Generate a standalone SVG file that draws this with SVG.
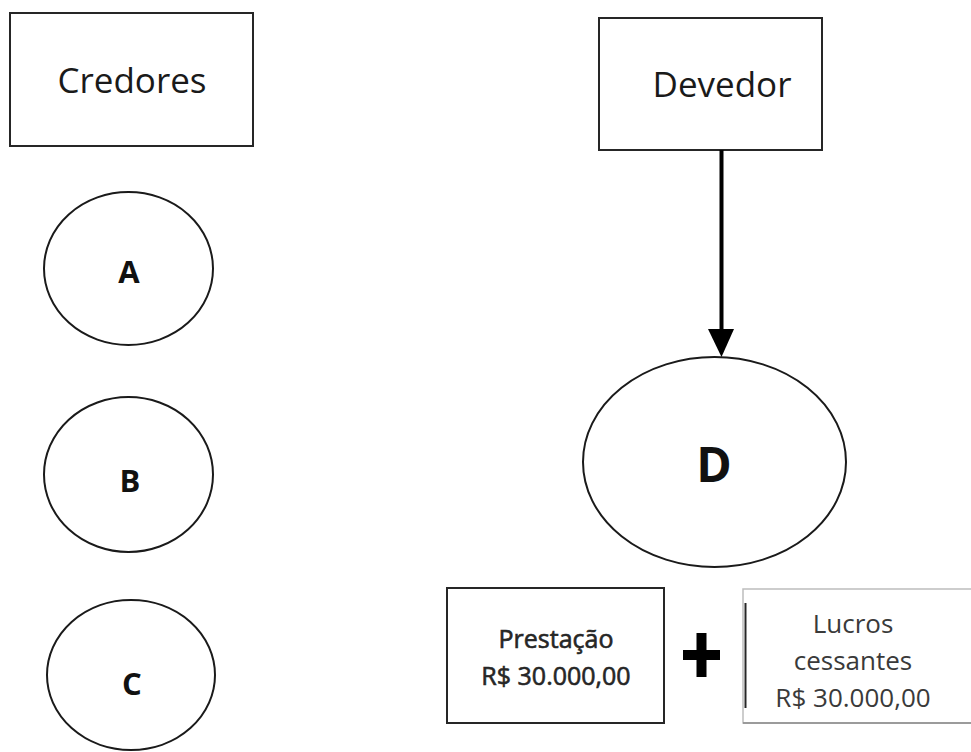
<svg xmlns="http://www.w3.org/2000/svg" width="971" height="752" viewBox="0 0 971 752">
  <style>
    .box { fill: #ffffff; stroke: #262626; stroke-width: 2; }
    .node { fill: #ffffff; stroke: #1a1a1a; stroke-width: 2; }
    .title { font-family: "Open Sans", "Liberation Sans", sans-serif; font-size: 35px; fill: #1a1a1a; text-anchor: middle; }
    .letter { font-family: "Open Sans", "Liberation Sans", sans-serif; font-weight: bold; font-size: 31px; fill: #111111; text-anchor: middle; }
    .small { font-family: "Open Sans", "Liberation Sans", sans-serif; font-size: 26px; text-anchor: middle; }
    .medium { font-size: 25px; fill: #262626; stroke: #262626; stroke-width: 0.6; }
    .edge { stroke: #000000; stroke-width: 4; fill: none; }
  </style>
  <rect width="971" height="752" fill="#ffffff"/>

  <g id="credores">
    <rect class="box" x="10" y="13" width="243" height="133"/>
    <text class="title" x="132" y="93">Credores</text>
  </g>

  <g id="devedor">
    <rect class="box" x="599" y="18" width="223" height="132"/>
    <text class="title" x="722" y="97">Devedor</text>
  </g>

  <g id="credor-a">
    <ellipse class="node" cx="128.5" cy="268.5" rx="84.5" ry="76.5"/>
    <text class="letter" x="129" y="283">A</text>
  </g>

  <g id="credor-b">
    <ellipse class="node" cx="128.5" cy="474.5" rx="84.5" ry="77.5"/>
    <text class="letter" x="130" y="492">B</text>
  </g>

  <g id="credor-c">
    <ellipse class="node" cx="131" cy="675" rx="84" ry="75"/>
    <text class="letter" x="132" y="695">C</text>
  </g>

  <g id="devedor-d">
    <ellipse class="node" cx="714.5" cy="462" rx="131.5" ry="105"/>
    <text class="letter" x="714" y="482" style="font-size:48px">D</text>
  </g>

  <g id="prestacao">
    <rect class="box" x="447" y="588" width="217" height="135"/>
    <text class="small medium" x="556" y="648">Prestação</text>
    <text class="small medium" x="556" y="685">R$ 30.000,00</text>
  </g>

  <g id="mais">
    <rect x="683" y="650" width="37" height="10" fill="#000000"/>
    <rect x="696.5" y="633" width="10" height="44" fill="#000000"/>
  </g>

  <g id="lucros-cessantes">
    <rect x="743" y="589" width="240" height="134" fill="#ffffff" stroke="#bdbdbd" stroke-width="1.5"/>
    <line x1="745.5" y1="603" x2="745.5" y2="708" stroke="#262626" stroke-width="2"/>
    <line x1="743" y1="723" x2="971" y2="723" stroke="#8a8a8a" stroke-width="1.5"/>
    <text class="small" x="853" y="633" style="fill:#3a3a3a">Lucros</text>
    <text class="small" x="853" y="670" style="fill:#3a3a3a">cessantes</text>
    <text class="small" x="853" y="707" style="fill:#3a3a3a">R$ 30.000,00</text>
  </g>

  <g id="connectors">
    <line class="edge" x1="721.5" y1="150" x2="721.5" y2="330"/>
    <path d="M708,329 L734,329 L721.5,357 Z" fill="#000000"/>
  </g>
</svg>
